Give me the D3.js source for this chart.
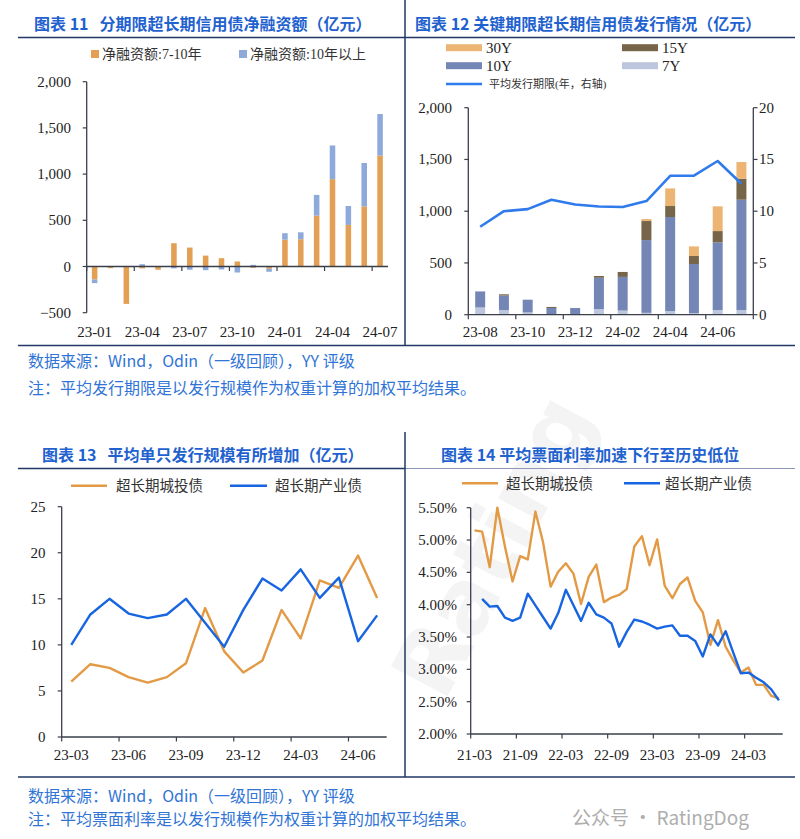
<!DOCTYPE html>
<html><head><meta charset="utf-8">
<script src="https://cdn.jsdelivr.net/npm/d3@7"></script>
<style>body{margin:0;background:#fff}svg{display:block;background:#fff}text{white-space:pre}</style>
</head><body><svg id="c" width="800" height="839"></svg>
<script>
// ---------- Chart 11 data ----------
const months11 = ["23-01","23-02","23-03","23-04","23-05","23-06","23-07","23-08","23-09","23-10","23-11","23-12","24-01","24-02","24-03","24-04","24-05","24-06","24-07"];
const net7to10 = [-140,-18,-405,-20,-35,252,205,118,90,54,-14,-25,290,295,550,945,450,650,1200];
const net10plus = [-40,0,0,25,0,-20,-35,-40,-32,-65,18,-32,70,75,225,365,205,470,450];
const ticks11 = [-500,0,500,1000,1500,2000];
const legend11 = ["净融资额:7-10年","净融资额:10年以上"];

// ---------- Chart 12 data ----------
const months12 = ["23-08","23-09","23-10","23-11","23-12","24-01","24-02","24-03","24-04","24-05","24-06","24-07"];
const iss7Y  = [70,45,22,5,5,55,40,18,35,16,45,45];
const iss10Y = [155,140,123,60,60,302,325,703,909,474,654,1066];
const iss15Y = [0,12,0,10,0,17,48,184,106,77,109,203];
const iss30Y = [0,0,0,0,0,0,0,19,170,93,239,161];
const avgTerm = [8.5,10.0,10.2,11.1,10.65,10.45,10.4,10.98,13.42,13.43,14.85,12.65];
const ticks12L = [0,500,1000,1500,2000];
const ticks12R = [0,5,10,15,20];

// ---------- Chart 13 data ----------
const months13 = ["23-03","23-04","23-05","23-06","23-07","23-08","23-09","23-10","23-11","23-12","24-01","24-02","24-03","24-04","24-05","24-06","24-07"];
const sizeLGFV = [6.0,7.9,7.5,6.5,5.9,6.5,8.0,14.0,9.3,7.0,8.3,13.8,10.7,17.0,16.2,19.7,15.1];
const sizeIndustrial = [10.0,13.3,15.0,13.4,12.9,13.3,15.0,12.4,9.8,13.8,17.2,15.9,18.2,15.1,17.3,10.4,13.2];
const ticks13 = [0,5,10,15,20,25];

// ---------- Chart 14 data ----------
const months14 = ["21-03","21-04","21-05","21-06","21-07","21-08","21-09","21-10","21-11","21-12","22-01","22-02","22-03","22-04","22-05","22-06","22-07","22-08","22-09","22-10","22-11","22-12","23-01","23-02","23-03","23-04","23-05","23-06","23-07","23-08","23-09","23-10","23-11","23-12","24-01","24-02","24-03","24-04","24-05","24-06","24-07"];
const rateLGFV = [5.15,5.13,4.58,5.50,4.90,4.36,4.75,4.70,5.44,4.97,4.28,4.51,4.64,4.48,4.01,4.43,4.62,4.04,4.11,4.15,4.24,4.90,5.06,4.61,5.01,4.29,4.10,4.32,4.42,4.06,3.88,3.38,3.76,3.35,3.14,2.95,3.03,2.76,2.76,2.59,2.55];
const rateIndustrial = [null,4.09,3.97,3.98,3.80,3.75,3.80,4.17,3.99,3.81,3.63,3.87,4.23,3.99,3.75,4.03,3.85,3.80,3.71,3.35,3.58,3.77,3.74,3.69,3.63,3.66,3.68,3.52,3.52,3.44,3.20,3.54,3.37,3.59,3.26,2.94,2.95,2.87,2.80,2.69,2.52];
const ticks14 = [2.0,2.5,3.0,3.5,4.0,4.5,5.0,5.5];
const legendLines = ["超长期城投债","超长期产业债"];

// ---------- styles ----------
const NUM = "'Liberation Serif','Times New Roman',serif";
const CJK = "'Noto Sans CJK SC','Noto Sans',sans-serif";
const LEG = "'Liberation Serif','Noto Sans CJK SC',serif";
const TITLE_C = "#1f62cf", SRC_C = "#2f74d6", RULE_C = "#203864", AXIS_C = "#3a3f4a";
const ORANGE11 = "#e3a055", BLUE11 = "#8eaadb";
const C30 = "#ecb574", C15 = "#766549", C10 = "#7486b6", C7 = "#bcc6dd", CLINE = "#2f7bec";
const ORANGE = "#e39a45", BLUE = "#1765e0";

const svg = d3.select("#c");
svg.append("rect").attr("width",800).attr("height",839).attr("fill","#fff");

// faint watermark
svg.append("text").attr("transform","translate(520,560) rotate(-62)")
  .attr("font-family","'DejaVu Sans',sans-serif").attr("font-weight","bold").attr("font-size",88)
  .attr("fill","#000").attr("opacity",0.04).attr("text-anchor","middle").text("Rating");

function line(x1,y1,x2,y2,c,w){svg.append("line").attr("x1",x1).attr("y1",y1).attr("x2",x2).attr("y2",y2).attr("stroke",c).attr("stroke-width",w);}
function text(x,y,t,o){const e=svg.append("text").attr("x",x).attr("y",y).text(t);
  for(const k in o) e.attr(k,o[k]); return e;}

// ---------- frame / titles ----------
text(34,30,"图表 11   分期限超长期信用债净融资额（亿元）",{"font-family":CJK,"font-size":16,"font-weight":"bold","fill":TITLE_C});
text(415,30,"图表 12 关键期限超长期信用债发行情况（亿元）",{"font-family":CJK,"font-size":16,"font-weight":"bold","fill":TITLE_C});
text(42,461,"图表 13   平均单只发行规模有所增加（亿元）",{"font-family":CJK,"font-size":16,"font-weight":"bold","fill":TITLE_C});
text(441,461,"图表 14 平均票面利率加速下行至历史低位",{"font-family":CJK,"font-size":16,"font-weight":"bold","fill":TITLE_C});
line(18,37.5,795,37.5,RULE_C,1.5);
line(18,468.5,795,468.5,"#8a9ab8",1.2);
line(18,468.5,405,468.5,RULE_C,1.5);
line(405,0,405,345,RULE_C,1.5);
line(18,345.5,795,345.5,RULE_C,1.3);
line(405,432,405,777,RULE_C,1.5);
line(18,777,795,777,RULE_C,1.5);

text(28,367,"数据来源：Wind，Odin（一级回顾），YY 评级",{"font-family":CJK,"font-size":16,"fill":SRC_C});
text(28,394,"注：平均发行期限是以发行规模作为权重计算的加权平均结果。",{"font-family":CJK,"font-size":16,"fill":SRC_C});
text(28,802,"数据来源：Wind，Odin（一级回顾），YY 评级",{"font-family":CJK,"font-size":16,"fill":SRC_C});
text(28,825,"注：平均票面利率是以发行规模作为权重计算的加权平均结果。",{"font-family":CJK,"font-size":16,"fill":SRC_C});
text(572,825,"公众号 · RatingDog",{"font-family":CJK,"font-size":19,"fill":"#9a9a9a","opacity":0.8});

// generic axes helpers
function yAxisLeft(y, xPos, ticks, fmt, labelX){
  line(xPos,y.range()[0],xPos,y.range()[1],AXIS_C,1.3);
  ticks.forEach(t=>{ line(xPos-4,y(t),xPos,y(t),AXIS_C,1.2);
    text(labelX,y(t),fmt(t),{"font-family":NUM,"font-size":15,"fill":"#222","text-anchor":"end","dominant-baseline":"central"}); });
}
function xCatAxis(x, yPos, tickIdx, labelIdx, labelY, cats){
  const step=x.step(), x0=x.range()[0];
  line(x0,yPos,x.range()[1],yPos,AXIS_C,1.3);
  tickIdx.forEach(i=> line(x0+i*step,yPos,x0+i*step,yPos+4.5,AXIS_C,1.2));
  labelIdx.forEach(i=> text(x(cats[i])+x.bandwidth()/2,labelY,cats[i],{"font-family":NUM,"font-size":15,"fill":"#222","text-anchor":"middle"}));
}

// ---------- Chart 11 ----------
{
  const y = d3.scaleLinear().domain([-500,2000]).range([312.7,81.7]);
  const x = d3.scaleBand().domain(months11).range([86.7,388]).paddingInner(0.65).paddingOuter(0.325);
  const rows = months11.map((m,i)=>({m, a:net7to10[i], b:net10plus[i]}));
  const stack = d3.stack().keys(["a","b"]).offset(d3.stackOffsetDiverging)(rows);
  const cols = [ORANGE11, BLUE11];
  stack.forEach((s,k)=>{
    svg.append("g").selectAll("rect").data(s).join("rect")
      .attr("x",d=>x(d.data.m)).attr("width",x.bandwidth())
      .attr("y",d=>y(Math.max(d[0],d[1]))).attr("height",d=>Math.abs(y(d[0])-y(d[1])))
      .attr("fill",cols[k]);
  });
  yAxisLeft(y,86.7,ticks11,d3.format(","),71);
  const x0=x.range()[0], step=x.step();
  line(x0,y(0),x.range()[1],y(0),AXIS_C,1.3);
  [0,3,6,9,12,15,18].forEach(i=> line(x0+i*step,y(0),x0+i*step,y(0)+4.5,AXIS_C,1.2));
  [0,3,6,9,12,15,18].forEach(i=> text(x(months11[i])+x.bandwidth()/2,337,months11[i],{"font-family":NUM,"font-size":15,"fill":"#222","text-anchor":"middle"}));
  // legend
  svg.append("rect").attr("x",91).attr("y",50).attr("width",8).attr("height",8).attr("fill",ORANGE11);
  text(102,59,legend11[0],{"font-family":LEG,"font-size":14,"fill":"#333"});
  svg.append("rect").attr("x",239).attr("y",50).attr("width",8).attr("height",8).attr("fill",BLUE11);
  text(250,59,legend11[1],{"font-family":LEG,"font-size":14,"fill":"#333"});
}

// ---------- Chart 12 ----------
{
  const y = d3.scaleLinear().domain([0,2000]).range([314.7,107.7]);
  const yR = d3.scaleLinear().domain([0,20]).range([314.7,107.7]);
  const x = d3.scaleBand().domain(months12).range([468.3,753.3]).paddingInner(0.58).paddingOuter(0.29);
  const rows = months12.map((m,i)=>({m, s7:iss7Y[i], s10:iss10Y[i], s15:iss15Y[i], s30:iss30Y[i]}));
  const keys=["s7","s10","s15","s30"], cols=[C7,C10,C15,C30];
  d3.stack().keys(keys)(rows).forEach((s,k)=>{
    svg.append("g").selectAll("rect").data(s).join("rect")
      .attr("x",d=>x(d.data.m)).attr("width",x.bandwidth())
      .attr("y",d=>y(d[1])).attr("height",d=>y(d[0])-y(d[1])).attr("fill",cols[k]);
  });
  svg.append("path").datum(avgTerm).attr("fill","none").attr("stroke",CLINE).attr("stroke-width",2.6)
    .attr("stroke-linejoin","round")
    .attr("d",d3.line().x((d,i)=>x(months12[i])+x.bandwidth()/2).y(d=>yR(d)));
  yAxisLeft(y,468.3,ticks12L,d3.format(","),452);
  line(753.3,107.7,753.3,314.7,AXIS_C,1.3);
  ticks12R.forEach(t=>{ line(753.3,yR(t),757.5,yR(t),AXIS_C,1.2);
    text(759,yR(t),t,{"font-family":NUM,"font-size":15,"fill":"#222","dominant-baseline":"central"}); });
  xCatAxis(x,314.7,[0,2,4,6,8,10,12],[0,2,4,6,8,10],337,months12);
  // legend
  const lg=[[446,47.7,C30,"30Y"],[622,47.7,C15,"15Y"],[446,65.7,C10,"10Y"],[622,65.7,C7,"7Y"]];
  lg.forEach(([lx,ly,c,t])=>{ svg.append("rect").attr("x",lx).attr("y",ly-3.5).attr("width",36).attr("height",7).attr("fill",c);
    text(lx+40,ly+5,t,{"font-family":NUM,"font-size":15,"fill":"#222"}); });
  line(446,84,482,84,CLINE,2.6);
  text(489,88,"平均发行期限(年，右轴)",{"font-family":LEG,"font-size":11,"fill":"#333"});
}

// ---------- Chart 13 ----------
{
  const y = d3.scaleLinear().domain([0,25]).range([737,506.7]);
  const x = d3.scaleBand().domain(months13).range([61.7,386.7]);
  const cx = (d,i)=>x(months13[i])+x.bandwidth()/2;
  [[sizeLGFV,ORANGE],[sizeIndustrial,BLUE]].forEach(([arr,c])=>{
    svg.append("path").datum(arr).attr("fill","none").attr("stroke",c).attr("stroke-width",2.4)
      .attr("stroke-linejoin","round").attr("d",d3.line().x(cx).y(d=>y(d)));
  });
  yAxisLeft(y,61.7,ticks13,d3.format("d"),45.5);
  xCatAxis(x,737,[0,3,6,9,12,15],[0,3,6,9,12,15],760,months13);
  line(71,485.7,107,485.7,ORANGE,2.4);
  text(116,491,legendLines[0],{"font-family":LEG,"font-size":14.5,"fill":"#333"});
  line(230,485.7,267,485.7,BLUE,2.4);
  text(275,491,legendLines[1],{"font-family":LEG,"font-size":14.5,"fill":"#333"});
}

// ---------- Chart 14 ----------
{
  const y = d3.scaleLinear().domain([2.0,5.5]).range([734,507.7]);
  const x = d3.scaleBand().domain(months14).range([470.7,782.7]);
  const cx = (d,i)=>x(months14[i])+x.bandwidth()/2;
  [[rateLGFV,ORANGE],[rateIndustrial,BLUE]].forEach(([arr,c])=>{
    svg.append("path").datum(arr).attr("fill","none").attr("stroke",c).attr("stroke-width",2.4)
      .attr("stroke-linejoin","round")
      .attr("d",d3.line().defined(d=>d!=null).x(cx).y(d=>y(d)));
  });
  yAxisLeft(y,470.7,ticks14,d=>d.toFixed(2)+"%",457);
  xCatAxis(x,734,[0,6,12,18,24,30,36],[0,6,12,18,24,30,36],760,months14);
  line(462,483.3,498,483.3,ORANGE,2.4);
  text(506,489,legendLines[0],{"font-family":LEG,"font-size":14.5,"fill":"#333"});
  line(624,483.3,660,483.3,BLUE,2.4);
  text(665,489,legendLines[1],{"font-family":LEG,"font-size":14.5,"fill":"#333"});
}
</script></body></html>
